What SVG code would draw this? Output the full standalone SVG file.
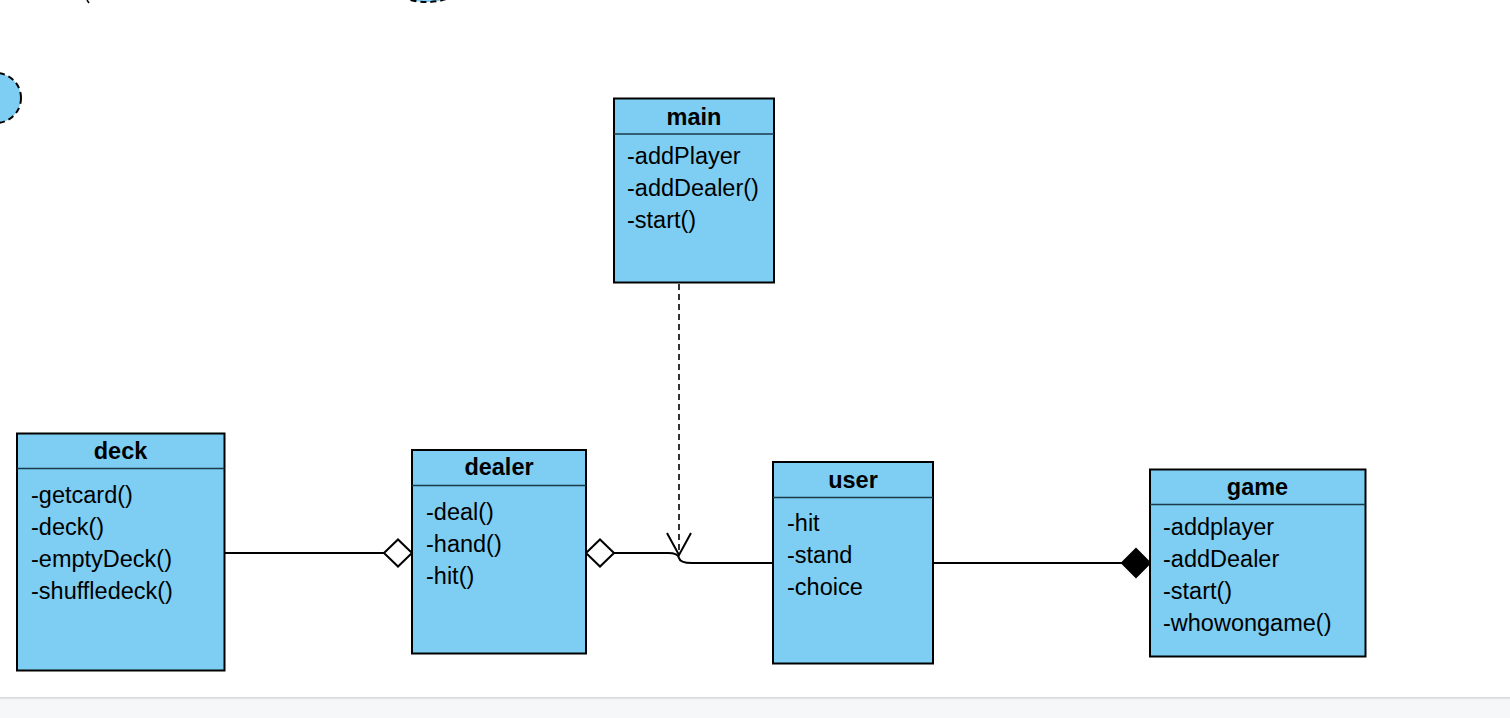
<svg xmlns="http://www.w3.org/2000/svg" width="1510" height="718" viewBox="0 0 1510 718">
<defs>
<linearGradient id="shade" x1="0" y1="0" x2="0" y2="1">
<stop offset="0" stop-color="#d2d3d6"/>
<stop offset="1" stop-color="#f6f7f9"/>
</linearGradient>
</defs>
<style>
.box{fill:#7ecef3;stroke:#000;stroke-width:2}
.sep{stroke:#1a3a4a;stroke-width:1.5}
.title{font-family:"Liberation Sans",Arial,Helvetica,sans-serif;font-size:23.5px;font-weight:bold;fill:#000;text-anchor:middle}
.item{font-family:"Liberation Sans",Arial,Helvetica,sans-serif;font-size:23.5px;fill:#000}
.ln{fill:none;stroke:#000;stroke-width:2}
.dash{fill:none;stroke:#000;stroke-width:1.6;stroke-dasharray:6 4}
.odia{fill:#fff;stroke:#000;stroke-width:2}
.fdia{fill:#000;stroke:#000;stroke-width:2}
.deco{fill:#7ecef3;stroke:#000;stroke-width:2;stroke-dasharray:6 4}
</style>
<rect x="0" y="0" width="1510" height="718" fill="#fff"/>
<rect x="0" y="697" width="1510" height="21" fill="#f6f7f9"/>
<rect x="0" y="697" width="1510" height="3" fill="url(#shade)"/>

<g id="decor">
<ellipse class="deco" cx="-4" cy="98" rx="25" ry="25"/>
<ellipse class="deco" cx="427" cy="-28" rx="45" ry="30"/>
<line x1="87" y1="0" x2="89" y2="3" stroke="#000" stroke-width="1.5"/>
</g>

<g id="connectors">
<line class="ln" x1="225" y1="553" x2="384" y2="553"/>
<polygon class="odia" points="384,553 398,539.5 412,553 398,566.5"/>
<polygon class="odia" points="586,553 600,539.5 614,553 600,566.5"/>
<path class="ln" d="M614,553 L668,553 Q678,553 679,558 Q680,563 692,563 L773,563"/>
<line class="dash" x1="679" y1="284" x2="679" y2="552"/>
<path class="ln" d="M667,533 L679,555 L691,533"/>
<line class="ln" x1="933" y1="563" x2="1122" y2="563"/>
<polygon class="fdia" points="1122,563 1136,549 1150,563 1136,577"/>
</g>

<g id="main">
<rect class="box" x="614" y="98.5" width="160" height="184"/>
<line class="sep" x1="614" y1="134" x2="774" y2="134"/>
<text class="title" x="694" y="124.5">main</text>
<text class="item" x="627" y="164">-addPlayer</text>
<text class="item" x="627" y="196">-addDealer()</text>
<text class="item" x="627" y="228">-start()</text>
</g>

<g id="deck">
<rect class="box" x="17" y="433.5" width="207.5" height="237"/>
<line class="sep" x1="17" y1="468.5" x2="224.5" y2="468.5"/>
<text class="title" x="120.5" y="458.5">deck</text>
<text class="item" x="31" y="503">-getcard()</text>
<text class="item" x="31" y="535">-deck()</text>
<text class="item" x="31" y="567">-emptyDeck()</text>
<text class="item" x="31" y="599">-shuffledeck()</text>
</g>

<g id="dealer">
<rect class="box" x="412" y="450" width="174" height="203.5"/>
<line class="sep" x1="412" y1="485.5" x2="586" y2="485.5"/>
<text class="title" x="499" y="475">dealer</text>
<text class="item" x="426" y="520">-deal()</text>
<text class="item" x="426" y="552">-hand()</text>
<text class="item" x="426" y="584">-hit()</text>
</g>

<g id="user">
<rect class="box" x="773" y="462" width="160" height="201.5"/>
<line class="sep" x1="773" y1="497.5" x2="933" y2="497.5"/>
<text class="title" x="853" y="488">user</text>
<text class="item" x="787" y="531">-hit</text>
<text class="item" x="787" y="563">-stand</text>
<text class="item" x="787" y="595">-choice</text>
</g>

<g id="game">
<rect class="box" x="1150" y="469.5" width="215.5" height="187"/>
<line class="sep" x1="1150" y1="504.5" x2="1365.5" y2="504.5"/>
<text class="title" x="1257.5" y="494.5">game</text>
<text class="item" x="1163" y="535">-addplayer</text>
<text class="item" x="1163" y="567">-addDealer</text>
<text class="item" x="1163" y="599">-start()</text>
<text class="item" x="1163" y="631">-whowongame()</text>
</g>
</svg>
